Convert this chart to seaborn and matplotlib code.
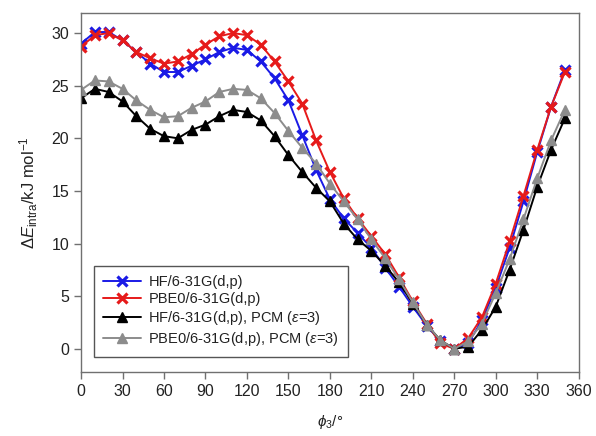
import numpy as np
import pandas as pd
import matplotlib
matplotlib.use("Agg")
import matplotlib.pyplot as plt
import seaborn as sns

# ---- data ----
phi = list(range(0, 360, 10))
hf = [29.0, 30.1, 30.1, 29.3, 28.2, 27.1, 26.3, 26.3, 26.9, 27.5,
      28.2, 28.6, 28.4, 27.3, 25.7, 23.6, 20.3, 17.0, 14.2, 12.4,
      11.0, 9.6, 7.7, 5.9, 4.0, 2.2, 0.7, 0.0, 0.5, 2.7,
      5.8, 9.6, 14.0, 18.7, 23.0, 26.5]
pbe0 = [28.7, 29.8, 30.0, 29.3, 28.2, 27.6, 27.1, 27.3, 28.0, 28.9,
        29.7, 30.0, 29.8, 28.9, 27.3, 25.4, 23.3, 19.8, 16.8, 14.3,
        12.4, 10.7, 9.0, 6.8, 4.5, 2.4, 0.5, 0.0, 1.0, 3.0,
        6.2, 10.2, 14.5, 18.9, 23.0, 26.3]
hf_pcm = [23.8, 24.7, 24.4, 23.5, 22.1, 20.9, 20.2, 20.0, 20.8, 21.3,
          22.1, 22.7, 22.5, 21.7, 20.2, 18.4, 16.8, 15.3, 14.0, 11.9,
          10.4, 9.3, 7.9, 6.3, 4.3, 2.3, 0.8, 0.0, 0.2, 1.8,
          4.0, 7.5, 11.3, 15.4, 18.9, 21.9]
pbe0_pcm = [24.6, 25.5, 25.4, 24.7, 23.6, 22.7, 22.0, 22.1, 22.9, 23.5,
            24.4, 24.7, 24.6, 23.8, 22.4, 20.7, 19.1, 17.6, 15.7, 14.0,
            12.3, 10.4, 8.6, 6.6, 4.4, 2.3, 0.8, 0.0, 0.7, 2.4,
            5.3, 8.5, 12.3, 16.2, 19.8, 22.7]
labels = ["HF/6-31G(d,p)", "PBE0/6-31G(d,p)",
          r"HF/6-31G(d,p), PCM ($\varepsilon$=3)",
          r"PBE0/6-31G(d,p), PCM ($\varepsilon$=3)"]
xticks = list(range(0, 361, 30))
yticks = list(range(0, 31, 5))

sns.set_style("ticks")
plt.rcParams['font.family'] = ['Liberation Sans', 'DejaVu Sans']
plt.rcParams['mathtext.fontset'] = 'custom'
plt.rcParams['mathtext.rm'] = 'Liberation Sans'
plt.rcParams['mathtext.it'] = 'Liberation Sans:italic'
plt.rcParams['mathtext.bf'] = 'Liberation Sans:bold'

fig = plt.figure(figsize=(5.96, 4.36), dpi=100)
ax = fig.add_axes([0.136, 0.147, 0.835, 0.823])

styles = [
    (hf, "#1a1ae6", "x", 7, 2.3),
    (pbe0, "#e61a1a", "x", 7, 2.3),
    (hf_pcm, "#000000", "^", 6.5, 1.0),
    (pbe0_pcm, "#8c8c8c", "^", 6.5, 1.0),
]
for (vals, col, mk, ms, mew), lab in zip(styles, labels):
    df = pd.DataFrame({"phi": phi, "E": vals})
    sns.lineplot(data=df, x="phi", y="E", ax=ax, color=col, marker=mk,
                 markersize=ms, markeredgewidth=mew, markeredgecolor=col,
                 linewidth=1.4, label=lab)

ax.set_xlim(0, 360)
ax.set_ylim(-2.2, 31.9)
ax.set_xticks(xticks)
ax.set_yticks(yticks)
ax.tick_params(direction='out', length=5, width=1, colors='#707070',
               labelcolor='#222222', labelsize=11.5)
for s in ax.spines.values():
    s.set_color('#707070')
    s.set_linewidth(1.0)

ax.set_xlabel(r"$\phi_3$/°", fontsize=11, labelpad=10, color='#222222')
ax.set_ylabel(r"$\Delta E_{\rm intra}$/kJ mol$^{-1}$", fontsize=12,
              labelpad=8, color='#222222')

leg = ax.legend(loc='lower left', bbox_to_anchor=(0.012, 0.022),
                fontsize=10.5, frameon=True, fancybox=False, framealpha=1,
                edgecolor='#555555', handlelength=2.6, borderpad=0.6,
                labelspacing=0.2, handletextpad=0.5)
leg.get_frame().set_linewidth(1.0)
for t in leg.get_texts():
    t.set_color('#222222')

fig.savefig("out.png", dpi=100)
